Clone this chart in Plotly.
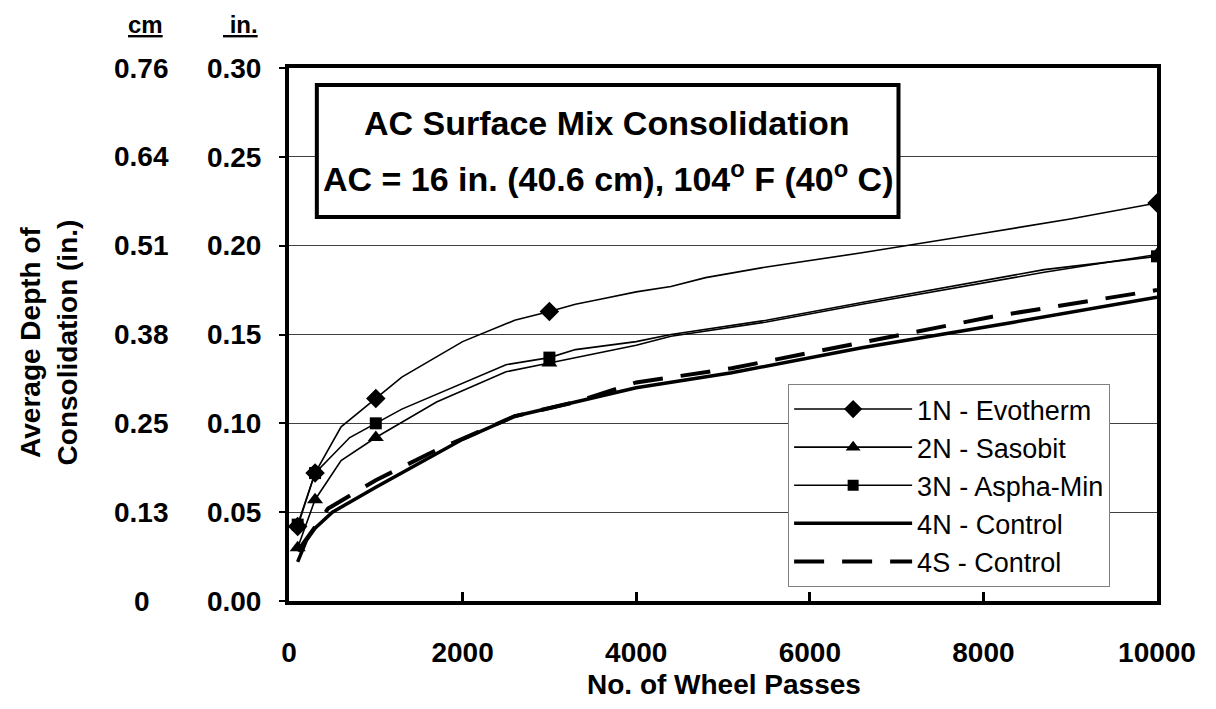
import plotly.graph_objects as go

# ---------------- data ----------------
x_1N = [100, 300, 600, 1000, 1300, 2000, 2600, 3000, 3300, 3600, 4000, 4400, 4800, 5500, 6600, 8000, 9000, 10000]
y_1N = [0.042, 0.072, 0.098, 0.114, 0.126, 0.146, 0.158, 0.163, 0.167, 0.170, 0.174, 0.177, 0.182, 0.188, 0.196, 0.207, 0.215, 0.224]

x_2N = [100, 300, 600, 1000, 1700, 2500, 3000, 3300, 4000, 4400, 5500, 6600, 8700, 10000]
y_2N = [0.030, 0.057, 0.079, 0.092, 0.112, 0.129, 0.134, 0.137, 0.144, 0.149, 0.157, 0.167, 0.185, 0.195]

x_3N = [100, 300, 700, 1000, 1300, 2500, 3000, 3300, 4000, 4400, 5500, 6600, 8700, 10000]
y_3N = [0.043, 0.072, 0.092, 0.100, 0.108, 0.133, 0.137, 0.1415, 0.146, 0.150, 0.158, 0.168, 0.1865, 0.194]

x_4N = [100, 200, 300, 500, 1000, 2000, 2600, 3500, 4000, 5100, 6600, 8300, 10000]
y_4N = [0.022, 0.034, 0.041, 0.050, 0.064, 0.091, 0.104, 0.114, 0.120, 0.1285, 0.1425, 0.1565, 0.171]

x_4S = [100, 450, 1000, 1700, 2600, 3300, 4000, 5100, 6600, 8100, 10000]
y_4S = [0.028, 0.052, 0.068, 0.085, 0.104, 0.112, 0.123, 0.131, 0.1455, 0.160, 0.175]

marker_passes = [100, 300, 1000, 3000, 10000]   # passes where markers are drawn

series_names = ["1N - Evotherm", "2N - Sasobit", "3N - Aspha-Min", "4N - Control", "4S - Control"]

in_ticks = [0.00, 0.05, 0.10, 0.15, 0.20, 0.25, 0.30]
in_labels = ["0.00", "0.05", "0.10", "0.15", "0.20", "0.25", "0.30"]
cm_labels = ["0", "0.13", "0.25", "0.38", "0.51", "0.64", "0.76"]
x_ticks = [0, 2000, 4000, 6000, 8000, 10000]

# ---------------- styling ----------------
FONT = "Liberation Sans, Arial, sans-serif"
styles = [
    dict(width=1.6, dash="solid", symbol="diamond", size=15),
    dict(width=1.6, dash="solid", symbol="triangle-up", size=14),
    dict(width=1.6, dash="solid", symbol="square", size=12),
    dict(width=3.5, dash="solid", symbol=None, size=0),
    dict(width=4, dash="30px,18px", symbol=None, size=0),
]
data = [(x_1N, y_1N), (x_2N, y_2N), (x_3N, y_3N), (x_4N, y_4N), (x_4S, y_4S)]

fig = go.Figure()

for (xs, ys), name, st in zip(data, series_names, styles):
    fig.add_trace(go.Scatter(
        x=xs, y=ys, mode="lines", name=name, showlegend=False,
        line=dict(color="black", width=st["width"], dash=st["dash"]),
        hoverinfo="skip"))
    if st["symbol"]:
        mx = [x for x in xs if x in marker_passes]
        my = [y for x, y in zip(xs, ys) if x in marker_passes]
        fig.add_trace(go.Scatter(
            x=mx, y=my, mode="markers", showlegend=False,
            marker=dict(symbol=st["symbol"], size=st["size"], color="black")))

# legend entries
for name, st in zip(series_names, styles):
    kw = dict(mode="lines+markers", marker=dict(symbol=st["symbol"], size=st["size"] - 1, color="black")) \
        if st["symbol"] else dict(mode="lines")
    fig.add_trace(go.Scatter(
        x=[None], y=[None], name=name, showlegend=True,
        line=dict(color="black", width=st["width"], dash=st["dash"]), **kw))

# ---------------- layout ----------------
# the page body adds an 8px margin, so the figure is placed 8px in from the top-left
OFF = 8
PAGE_W, PAGE_H = 1216, 709
W, H = PAGE_W - 2 * OFF, PAGE_H - 2 * OFF
PL, PR, PT, PB = 289, 1162, 68, 601          # plot area in page pixels
L, R, T, B = PL - OFF, W - (PR - OFF), PT - OFF, H - (PB - OFF)
pw, ph = W - L - R, H - T - B


def px_x(p):
    return (p - OFF - L) / pw


def px_y(p):
    return (H - B - (p - OFF)) / ph


fig.update_layout(
    width=W, height=H,
    margin=dict(l=L, r=R, t=T, b=B),
    paper_bgcolor="white", plot_bgcolor="white",
    font=dict(family=FONT, color="black"),
    xaxis=dict(
        range=[0, 10000], tickvals=x_ticks, ticktext=[str(v) for v in x_ticks],
        showgrid=False, zeroline=False,
        showline=True, linecolor="black", linewidth=4, mirror=True,
        ticks="inside", ticklen=9, tickwidth=3, tickcolor="black",
        tickfont=dict(family=FONT, size=28, color="black", weight="bold"),
        ticklabelstandoff=23,
    ),
    yaxis=dict(
        range=[0, 0.30], tickvals=in_ticks, ticktext=in_labels,
        showgrid=True, gridcolor="#404040", gridwidth=1, zeroline=False,
        showline=True, linecolor="black", linewidth=4, mirror=True,
        ticks="outside", ticklen=6, tickwidth=2, tickcolor="black",
        tickfont=dict(family=FONT, size=28, color="black", weight="bold"),
        ticklabelstandoff=12,
    ),
    legend=dict(
        x=px_x(791), y=px_y(384), xanchor="left", yanchor="top",
        bgcolor="white", bordercolor="#808080", borderwidth=1,
        font=dict(family=FONT, size=27, color="black"),
        itemwidth=118,
    ),
    showlegend=True,
)

# title box
fig.add_shape(type="rect", xref="paper", yref="paper",
              x0=px_x(317), x1=px_x(902), y0=px_y(217), y1=px_y(85),
              line=dict(color="black", width=4), fillcolor="white", layer="above")

annots = [
    dict(text="<b>AC Surface Mix Consolidation</b>", x=px_x(609), y=px_y(123), size=34),
    dict(text="<b>AC = 16 in. (40.6 cm), 104<sup>o</sup> F (40<sup>o</sup> C)</b>", x=px_x(610), y=px_y(176), size=34),
    dict(text="<b>No. of Wheel Passes</b>", x=px_x(727), y=px_y(684), size=28),
]
for a in annots:
    fig.add_annotation(text=a["text"], x=a["x"], y=a["y"], xref="paper", yref="paper",
                       showarrow=False, xanchor="center", yanchor="middle",
                       font=dict(family=FONT, size=a["size"], color="black"))

# y-axis title
fig.add_annotation(text="<b>Average Depth of<br>Consolidation (in.)</b>", textangle=-90,
                   x=px_x(47), y=px_y(342), xref="paper", yref="paper",
                   showarrow=False, xanchor="center", yanchor="middle",
                   font=dict(family=FONT, size=28, color="black"))

# unit headers
fig.add_annotation(text="<b>cm</b>", x=px_x(145), y=px_y(25), xref="paper", yref="paper",
                   showarrow=False, xanchor="center", yanchor="middle", borderpad=0,
                   font=dict(family=FONT, size=24, color="black", lineposition="under"))
fig.add_annotation(text="<b>\u00a0in.</b>", x=px_x(240), y=px_y(25), xref="paper", yref="paper",
                   showarrow=False, xanchor="center", yanchor="middle", borderpad=0,
                   font=dict(family=FONT, size=24, color="black", lineposition="under"))

# cm scale labels
for v, lab in zip(in_ticks, cm_labels):
    fig.add_annotation(text="<b>%s</b>" % lab, x=px_x(141), y=v, xref="paper", yref="y",
                       showarrow=False, xanchor="center", yanchor="middle",
                       font=dict(family=FONT, size=28, color="black"))

fig.write_html("out.html")
